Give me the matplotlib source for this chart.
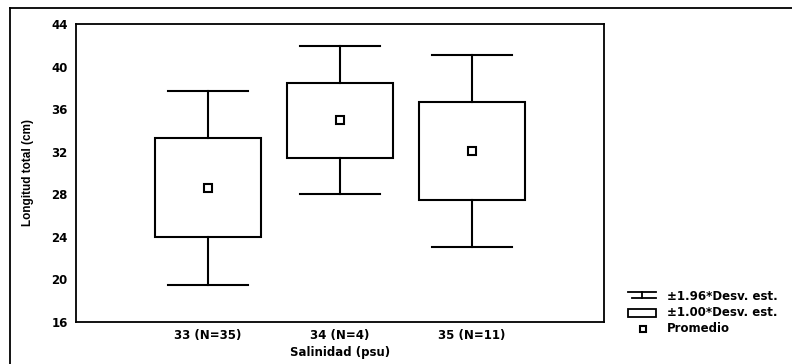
import matplotlib
matplotlib.use("Agg")
import matplotlib.pyplot as plt
from matplotlib.lines import Line2D
from matplotlib.patches import Rectangle
import numpy as np

# salinity groups, mean total length and standard deviation
labels = ["33 (N=35)", "34 (N=4)", "35 (N=11)"]
means = [28.6, 34.95, 32.1]
sds = [4.65, 3.55, 4.6]
yticks = [16, 20, 24, 28, 32, 36, 40, 44]

plt.rcParams["font.family"] = ["DejaVu Sans"]
plt.rcParams["font.weight"] = "bold"

W, H = 792, 364
fig = plt.figure(figsize=(W / 100, H / 100), dpi=100)
ax = fig.add_axes([76 / W, 1 - 322 / H, (604 - 76) / W, (322 - 24) / H])

x = np.arange(len(means))
lw = 1.5
for xi, m, s in zip(x, means, sds):
    ax.add_patch(Rectangle((xi - 0.4, m - s), 0.8, 2 * s, facecolor="white",
                           edgecolor="black", lw=lw, zorder=2))
    ax.plot([xi, xi], [m + s, m + 1.96 * s], color="black", lw=lw)
    ax.plot([xi, xi], [m - s, m - 1.96 * s], color="black", lw=lw)
    ax.plot([xi - 0.3, xi + 0.3], [m + 1.96 * s] * 2, color="black", lw=lw)
    ax.plot([xi - 0.3, xi + 0.3], [m - 1.96 * s] * 2, color="black", lw=lw)
ax.plot(x, means, ls="none", marker="s", ms=6, mfc="white", mec="black",
        mew=1.5, zorder=3)

ax.set_xlim(-1, 3)
ax.set_ylim(16, 44)
ax.set_xticks(x)
ax.set_xticklabels(labels, fontsize=8.5, fontweight="bold")
ax.set_yticks(yticks)
ax.set_yticklabels([str(t) for t in yticks], fontsize=8.5, fontweight="bold")
ax.tick_params(axis="y", length=0, pad=6)
ax.tick_params(axis="x", length=0, pad=5)
for sp in ax.spines.values():
    sp.set_linewidth(1.3)
ax.set_xlabel("Salinidad (psu)", fontsize=8.5, fontweight="bold", labelpad=3)
ax.set_ylabel("Longitud total (cm)", fontsize=8.5, fontweight="bold",
              family="Liberation Sans", labelpad=12)

# outer frame (top and left edges visible in the scan)
fig.add_artist(Line2D([10 / W, 1], [1 - 8 / H] * 2, color="black", lw=1.3))
fig.add_artist(Line2D([10 / W] * 2, [0, 1 - 8 / H], color="black", lw=1.3))

# legend drawn in figure pixel coordinates
def fx(px):
    return px / W

def fy(py):
    return 1 - py / H

kw = dict(color="black", lw=1.3)
fig.add_artist(Line2D([fx(628), fx(656)], [fy(292)] * 2, **kw))
fig.add_artist(Line2D([fx(632), fx(656)], [fy(298)] * 2, **kw))
fig.add_artist(Line2D([fx(642)] * 2, [fy(292), fy(298)], **kw))
fig.add_artist(Rectangle((fx(628), fy(317)), fx(28), 8 / H, transform=fig.transFigure,
                         facecolor="white", edgecolor="black", lw=1.3))
fig.add_artist(Line2D([fx(643)], [fy(329)], marker="s", ms=5, mfc="white",
                      mec="black", mew=1.5))
ltext = ["\u00b11.96*Desv. est.", "\u00b11.00*Desv. est.", "Promedio"]
for i, t in enumerate(ltext):
    fig.text(fx(667), fy(296 + 16 * i), t, fontsize=8.5, fontweight="bold",
             va="center", ha="left")

fig.savefig("out.png", dpi=100)
